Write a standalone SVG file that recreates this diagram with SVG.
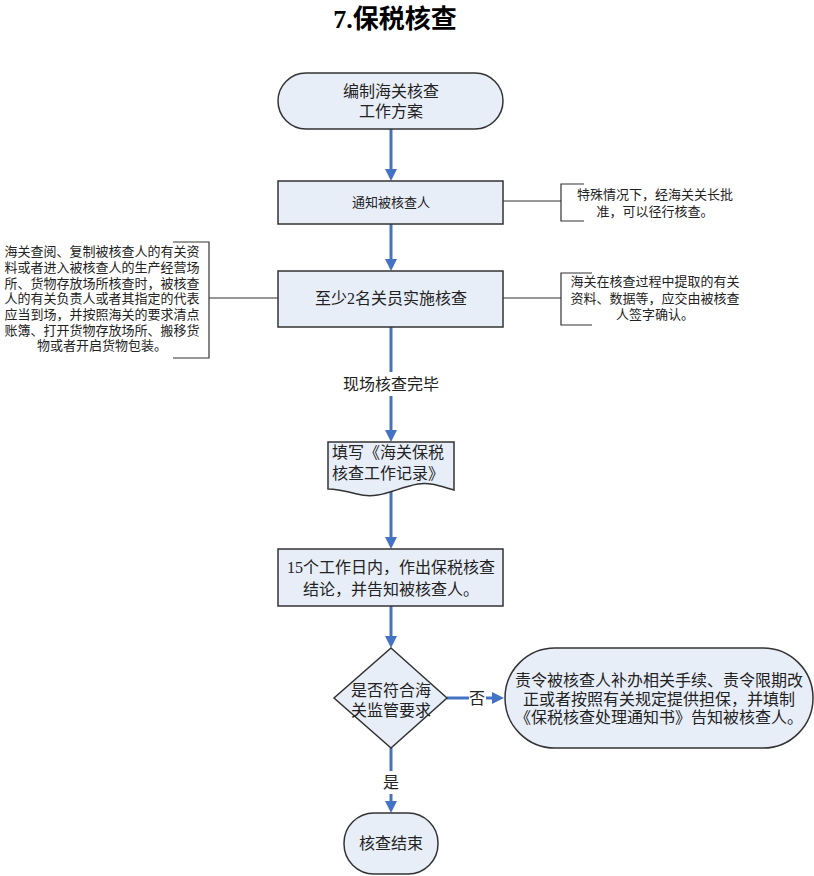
<svg xmlns="http://www.w3.org/2000/svg" width="814" height="876" viewBox="0 0 814 876">
<defs>
<marker id="ah" viewBox="0 0 12 12" refX="6" refY="6" markerWidth="12" markerHeight="12" markerUnits="userSpaceOnUse" orient="auto">
<path d="M0,0 L12,6 L0,12 z" fill="#4472c4"/>
</marker>
<style>
.shape{fill:#e8eef8;stroke:#333;stroke-width:1.5}
.flow{stroke:#4472c4;stroke-width:3;fill:none}
.note{stroke:#333;stroke-width:1.2;fill:none}
text{font-family:"Liberation Serif","Noto Sans CJK SC",serif;fill:#222;text-anchor:middle}
.t16{font-size:16px}
.t13{font-size:13px}
.t12{font-size:12.5px}
</style>
</defs>
<rect width="814" height="876" fill="#fff"/>
<text x="395" y="28" style="font-size:26px;font-weight:bold;fill:#000">7.保税核查</text>

<g id="connectors">
<line class="flow" x1="391" y1="129" x2="391" y2="175" marker-end="url(#ah)"/>
<line class="flow" x1="391" y1="224" x2="391" y2="265" marker-end="url(#ah)"/>
<line class="flow" x1="391" y1="327" x2="391" y2="372"/>
<line class="flow" x1="391" y1="396" x2="391" y2="436" marker-end="url(#ah)"/>
<line class="flow" x1="391" y1="491" x2="391" y2="543" marker-end="url(#ah)"/>
<line class="flow" x1="391" y1="606" x2="391" y2="642" marker-end="url(#ah)"/>
<line class="flow" x1="447" y1="698" x2="469" y2="698"/>
<line class="flow" x1="486" y1="698" x2="498" y2="698" marker-end="url(#ah)"/>
<line class="flow" x1="391" y1="748" x2="391" y2="771"/>
<line class="flow" x1="391" y1="794" x2="391" y2="807" marker-end="url(#ah)"/>
<text class="t16" x="391" y="390">现场核查完毕</text>
<text class="t16" x="477" y="704">否</text>
<text class="t16" x="391" y="788">是</text>
<line class="note" x1="503" y1="201" x2="561" y2="201"/>
<line class="note" x1="278" y1="298" x2="209" y2="298"/>
<line class="note" x1="503" y1="298" x2="561" y2="298"/>
</g>

<g id="start">
<rect class="shape" x="278" y="73" width="225" height="56" rx="28" ry="28"/>
<text class="t16" x="391" y="97">编制海关核查</text>
<text class="t16" x="391" y="117">工作方案</text>
</g>

<g id="notify">
<rect class="shape" x="278" y="181" width="225" height="43"/>
<text class="t13" x="391" y="207">通知被核查人</text>
</g>

<g id="note-notify">
<path class="note" d="M584,184 H561 V221 H584"/>
<text class="t13" x="655" y="199">特殊情况下，经海关关长批</text>
<text class="t13" x="655" y="216">准，可以径行核查。</text>
</g>

<g id="inspect">
<rect class="shape" x="278" y="271" width="225" height="56"/>
<text class="t16" x="391" y="304">至少2名关员实施核查</text>
</g>

<g id="note-left">
<path class="note" d="M173,242 H209 V358 H173"/>
<text class="t13" x="102" y="256">海关查阅、复制被核查人的有关资</text>
<text class="t13" x="102" y="272">料或者进入被核查人的生产经营场</text>
<text class="t13" x="102" y="288">所、货物存放场所核查时，被核查</text>
<text class="t13" x="102" y="303">人的有关负责人或者其指定的代表</text>
<text class="t13" x="102" y="319">应当到场，并按照海关的要求清点</text>
<text class="t13" x="102" y="335">账簿、打开货物存放场所、搬移货</text>
<text class="t13" x="102" y="350">物或者开启货物包装。</text>
</g>

<g id="note-right">
<path class="note" d="M592,273 H561 V325 H592"/>
<text class="t13" x="655" y="286">海关在核查过程中提取的有关</text>
<text class="t13" x="655" y="303">资料、数据等，应交由被核查</text>
<text class="t13" x="655" y="319">人签字确认。</text>
</g>

<g id="record">
<path class="shape" d="M328,442 H454 V490 C440,486 430,482 418,484 C395,488 380,500 357,494 C345,491 336,489 328,489 Z"/>
<text class="t16" x="388" y="458">填写《海关保税</text>
<text class="t16" x="388" y="479">核查工作记录》</text>
</g>

<g id="conclusion">
<rect class="shape" x="278" y="549" width="225" height="57"/>
<text class="t16" x="391" y="573">15个工作日内，作出保税核查</text>
<text class="t16" x="391" y="595">结论，并告知被核查人。</text>
</g>

<g id="decision">
<path class="shape" d="M391,648 L447,698 L391,748 L334,698 Z"/>
<text class="t16" x="391" y="696">是否符合海</text>
<text class="t16" x="391" y="716">关监管要求</text>
</g>

<g id="remedy">
<rect class="shape" x="505" y="648" width="308" height="100" rx="50" ry="50"/>
<text class="t16" x="659" y="686">责令被核查人补办相关手续、责令限期改</text>
<text class="t16" x="659" y="705">正或者按照有关规定提供担保，并填制</text>
<text class="t16" x="659" y="723">《保税核查处理通知书》告知被核查人。</text>
</g>

<g id="end">
<rect class="shape" x="344" y="813" width="94" height="61" rx="30" ry="30"/>
<text class="t16" x="391" y="849">核查结束</text>
</g>
</svg>
